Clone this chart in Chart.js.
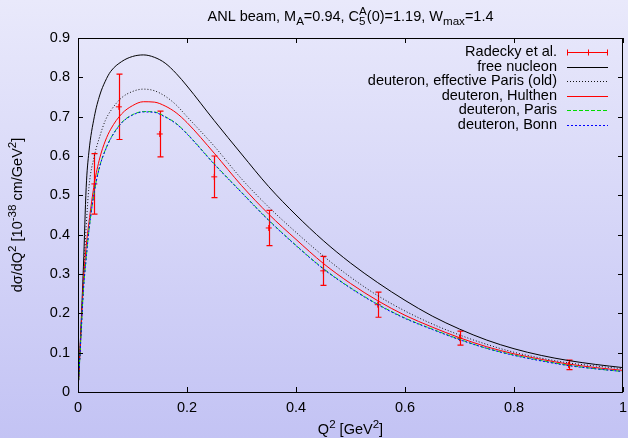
<!DOCTYPE html>
<html>
<head>
<meta charset="utf-8">
<style>
  html, body { margin: 0; padding: 0; }
  body { width: 628px; height: 438px; overflow: hidden; }
</style>
<script src="https://cdn.jsdelivr.net/npm/chart.js@4.4.1/dist/chart.umd.min.js"></script>
</head>
<body>
<canvas id="chart" width="628" height="438"></canvas>
<script>
// Q^2 grid for the theory curves
const q2 = [0, 0.005, 0.01, 0.015, 0.02, 0.03, 0.04, 0.05, 0.06, 0.08, 0.10, 0.12, 0.14, 0.16, 0.18, 0.20,
  0.25, 0.30, 0.35, 0.40, 0.45, 0.50, 0.55, 0.60, 0.65, 0.70, 0.75, 0.80, 0.85, 0.90, 0.95, 1.0];
const freeNucleon = [0, 0.15, 0.32, 0.52, 0.61, 0.70, 0.755, 0.79, 0.815, 0.84, 0.853, 0.857, 0.851, 0.836, 0.81, 0.778,
  0.69, 0.605, 0.522, 0.450, 0.385, 0.328, 0.278, 0.233, 0.193, 0.160, 0.132, 0.110, 0.093, 0.080, 0.070, 0.062];
const effParisOld = [0, 0.14, 0.29, 0.42, 0.52, 0.60, 0.65, 0.69, 0.715, 0.748, 0.764, 0.770, 0.766, 0.752, 0.73, 0.70,
  0.625, 0.542, 0.470, 0.406, 0.346, 0.292, 0.245, 0.206, 0.173, 0.145, 0.121, 0.101, 0.086, 0.074, 0.066, 0.059];
const hulthen = [0, 0.14, 0.28, 0.37, 0.43, 0.53, 0.595, 0.638, 0.668, 0.707, 0.728, 0.738, 0.737, 0.727, 0.71, 0.685,
  0.607, 0.525, 0.452, 0.388, 0.327, 0.276, 0.232, 0.195, 0.165, 0.138, 0.115, 0.097, 0.083, 0.071, 0.062, 0.055];
const paris = [0, 0.13, 0.26, 0.34, 0.41, 0.51, 0.575, 0.615, 0.645, 0.685, 0.705, 0.713, 0.712, 0.70, 0.683, 0.657,
  0.58, 0.508, 0.437, 0.373, 0.314, 0.265, 0.223, 0.188, 0.16, 0.134, 0.111, 0.094, 0.080, 0.068, 0.059, 0.052];
const bonn = [0, 0.13, 0.26, 0.34, 0.41, 0.51, 0.574, 0.614, 0.644, 0.684, 0.704, 0.712, 0.711, 0.699, 0.682, 0.656,
  0.579, 0.507, 0.436, 0.372, 0.313, 0.264, 0.222, 0.187, 0.159, 0.133, 0.111, 0.093, 0.079, 0.067, 0.059, 0.052];

// Radecky et al. data with errors
const dataQ2 = [0.03, 0.075, 0.15, 0.25, 0.35, 0.45, 0.55, 0.70, 0.90];
const dataVal = [0.529, 0.725, 0.656, 0.547, 0.417, 0.308, 0.222, 0.137, 0.069];
const dataErr = [0.077, 0.083, 0.058, 0.053, 0.045, 0.037, 0.032, 0.018, 0.012];

const xTicks = [0, 0.2, 0.4, 0.6, 0.8, 1];
const yTicks = [0, 0.1, 0.2, 0.3, 0.4, 0.5, 0.6, 0.7, 0.8, 0.9];

const FONT = '"Liberation Sans", Arial, sans-serif';
const FS = 14.5;
const pts = arr => q2.map((q, i) => ({ x: q, y: arr[i] }));

// text with sub/superscripts: [text, mode, advance] mode 1 = sup, -1 = sub
function richText(ctx, parts, x, y, size, align) {
  const small = size * 0.8;
  let w = 0;
  parts.forEach(p => {
    ctx.font = (p[1] ? small : size) + "px " + FONT;
    if (p[2] !== false) w += ctx.measureText(p[0]).width;
  });
  let cx = align === "center" ? x - w / 2 : x;
  parts.forEach(p => {
    ctx.font = (p[1] ? small : size) + "px " + FONT;
    const dy = p[1] === 1 ? -size * 0.42 : p[1] === -1 ? size * 0.28 : 0;
    ctx.fillText(p[0], cx, y + dy);
    if (p[2] !== false) cx += ctx.measureText(p[0]).width;
  });
}

const bgPlugin = {
  id: "bg",
  beforeDraw(chart) {
    const { ctx, width, height } = chart;
    const g = ctx.createLinearGradient(0, 0, 0, height);
    g.addColorStop(0, "#e9e9fb");
    g.addColorStop(1, "#c3c3f4");
    ctx.save();
    ctx.fillStyle = g;
    ctx.fillRect(0, 0, width, height);
    ctx.restore();
  }
};

// error bars for the data set
const errorBars = {
  id: "errorBars",
  afterDatasetDraw(chart, args) {
    if (args.index !== 0) return;
    const { ctx, scales: { x, y } } = chart;
    ctx.save();
    ctx.strokeStyle = "#ff0000";
    ctx.lineWidth = 1.2;
    dataQ2.forEach((q, i) => {
      const px = Math.round(x.getPixelForValue(q)) + 0.5;
      const top = y.getPixelForValue(dataVal[i] + dataErr[i]);
      const bot = y.getPixelForValue(dataVal[i] - dataErr[i]);
      ctx.beginPath();
      ctx.moveTo(px, top); ctx.lineTo(px, bot);
      ctx.moveTo(px - 3, top); ctx.lineTo(px + 3, top);
      ctx.moveTo(px - 3, bot); ctx.lineTo(px + 3, bot);
      ctx.stroke();
    });
    ctx.restore();
  }
};

const frame = {
  id: "frame",
  afterDraw(chart) {
    const { ctx, chartArea: a, scales: { x, y } } = chart;
    ctx.save();
    ctx.strokeStyle = "#000";
    ctx.lineWidth = 1;
    ctx.strokeRect(a.left + 0.5, a.top + 0.5, a.right - a.left - 1, a.bottom - a.top);
    ctx.beginPath();
    xTicks.forEach(v => {
      const px = Math.round(x.getPixelForValue(v)) + 0.5;
      ctx.moveTo(px, a.bottom); ctx.lineTo(px, a.bottom - 5);
      ctx.moveTo(px, a.top); ctx.lineTo(px, a.top + 5);
    });
    yTicks.forEach(v => {
      const py = Math.round(y.getPixelForValue(v)) + 0.5;
      ctx.moveTo(a.left, py); ctx.lineTo(a.left + 5, py);
      ctx.moveTo(a.right, py); ctx.lineTo(a.right - 5, py);
    });
    ctx.stroke();

    // titles
    ctx.fillStyle = "#000";
    ctx.textBaseline = "alphabetic";
    const cx = (a.left + a.right) / 2;
    richText(ctx, [["ANL beam, M", 0], ["A", -1], ["=0.94, C", 0], ["5", -1, false], ["A", 1],
      ["(0)=1.19, W", 0], ["max", -1], ["=1.4", 0]], cx, 21, FS, "center");
    richText(ctx, [["Q", 0], ["2", 1], [" [GeV", 0], ["2", 1], ["]", 0]], cx, 434, FS, "center");
    ctx.save();
    ctx.translate(22, (a.top + a.bottom) / 2);
    ctx.rotate(-Math.PI / 2);
    richText(ctx, [["d\u03c3/dQ", 0], ["2", 1], [" [10", 0], ["-38", 1], [" cm/GeV", 0], ["2", 1], ["]", 0]],
      0, 0, FS, "center");
    ctx.restore();

    // key
    ctx.font = FS + "px " + FONT;
    ctx.textAlign = "right";
    ctx.textBaseline = "middle";
    const x0 = 567, x1 = 608;
    chart.data.datasets.forEach((ds, i) => {
      const ly = 52 + i * 14.5;
      ctx.fillText(ds.label, 557, ly);
      const py = Math.round(ly) + 0.5;
      ctx.strokeStyle = ds.borderColor;
      ctx.lineWidth = 1;
      ctx.setLineDash(ds.borderDash || []);
      ctx.beginPath();
      ctx.moveTo(x0, py); ctx.lineTo(x1, py);
      if (i === 0) {
        ctx.moveTo(x0 + 0.5, py - 3); ctx.lineTo(x0 + 0.5, py + 3);
        ctx.moveTo(x1 - 0.5, py - 3); ctx.lineTo(x1 - 0.5, py + 3);
        const mx = Math.round((x0 + x1) / 2) + 0.5;
        ctx.moveTo(mx, py - 3); ctx.lineTo(mx, py + 3);
      }
      ctx.stroke();
      ctx.setLineDash([]);
    });
    ctx.restore();
  }
};

const curve = (label, arr, color, dash, order) => ({
  label, data: pts(arr), borderColor: color, borderWidth: 1, borderDash: dash,
  pointRadius: 0, fill: false, cubicInterpolationMode: "monotone", order
});

new Chart(document.getElementById("chart"), {
  type: "line",
  data: {
    datasets: [
      {
        label: "Radecky et al.",
        data: dataQ2.map((q, i) => ({ x: q, y: dataVal[i] })),
        showLine: false, borderColor: "#ff0000", backgroundColor: "#ff0000",
        pointStyle: "cross", pointRadius: 3, pointBorderWidth: 1, order: 6
      },
      curve("free nucleon", freeNucleon, "#000000", [], 5),
      curve("deuteron, effective Paris (old)", effParisOld, "#111111", [1, 2], 4),
      curve("deuteron, Hulthen", hulthen, "#ff0000", [], 3),
      curve("deuteron, Paris", paris, "#00dd00", [4, 2], 2),
      curve("deuteron, Bonn", bonn, "#0000ff", [2, 2], 1)
    ]
  },
  options: {
    responsive: false,
    animation: false,
    devicePixelRatio: 1,
    layout: { padding: { top: 38, left: 0, right: 3, bottom: 0 } },
    plugins: { legend: { display: false }, tooltip: { enabled: false }, title: { display: false } },
    scales: {
      x: {
        type: "linear", min: 0, max: 1,
        grid: { display: false, drawTicks: false },
        border: { display: false },
        ticks: { padding: 7, color: "#000", font: { family: FONT, size: FS }, maxRotation: 0, callback: v => String(v) },
        afterBuildTicks: s => { s.ticks = xTicks.map(v => ({ value: v })); },
        afterFit: s => { s.height = 46; s.paddingLeft = 0; s.paddingRight = 0; }
      },
      y: {
        type: "linear", min: 0, max: 0.9,
        grid: { display: false, drawTicks: false },
        border: { display: false },
        ticks: { padding: 8, color: "#000", font: { family: FONT, size: FS }, callback: v => String(v) },
        afterBuildTicks: s => { s.ticks = yTicks.map(v => ({ value: v })); },
        afterFit: s => { s.width = 78; s.paddingTop = 0; s.paddingBottom = 0; }
      }
    }
  },
  plugins: [bgPlugin, errorBars, frame]
});
</script>
</body>
</html>
